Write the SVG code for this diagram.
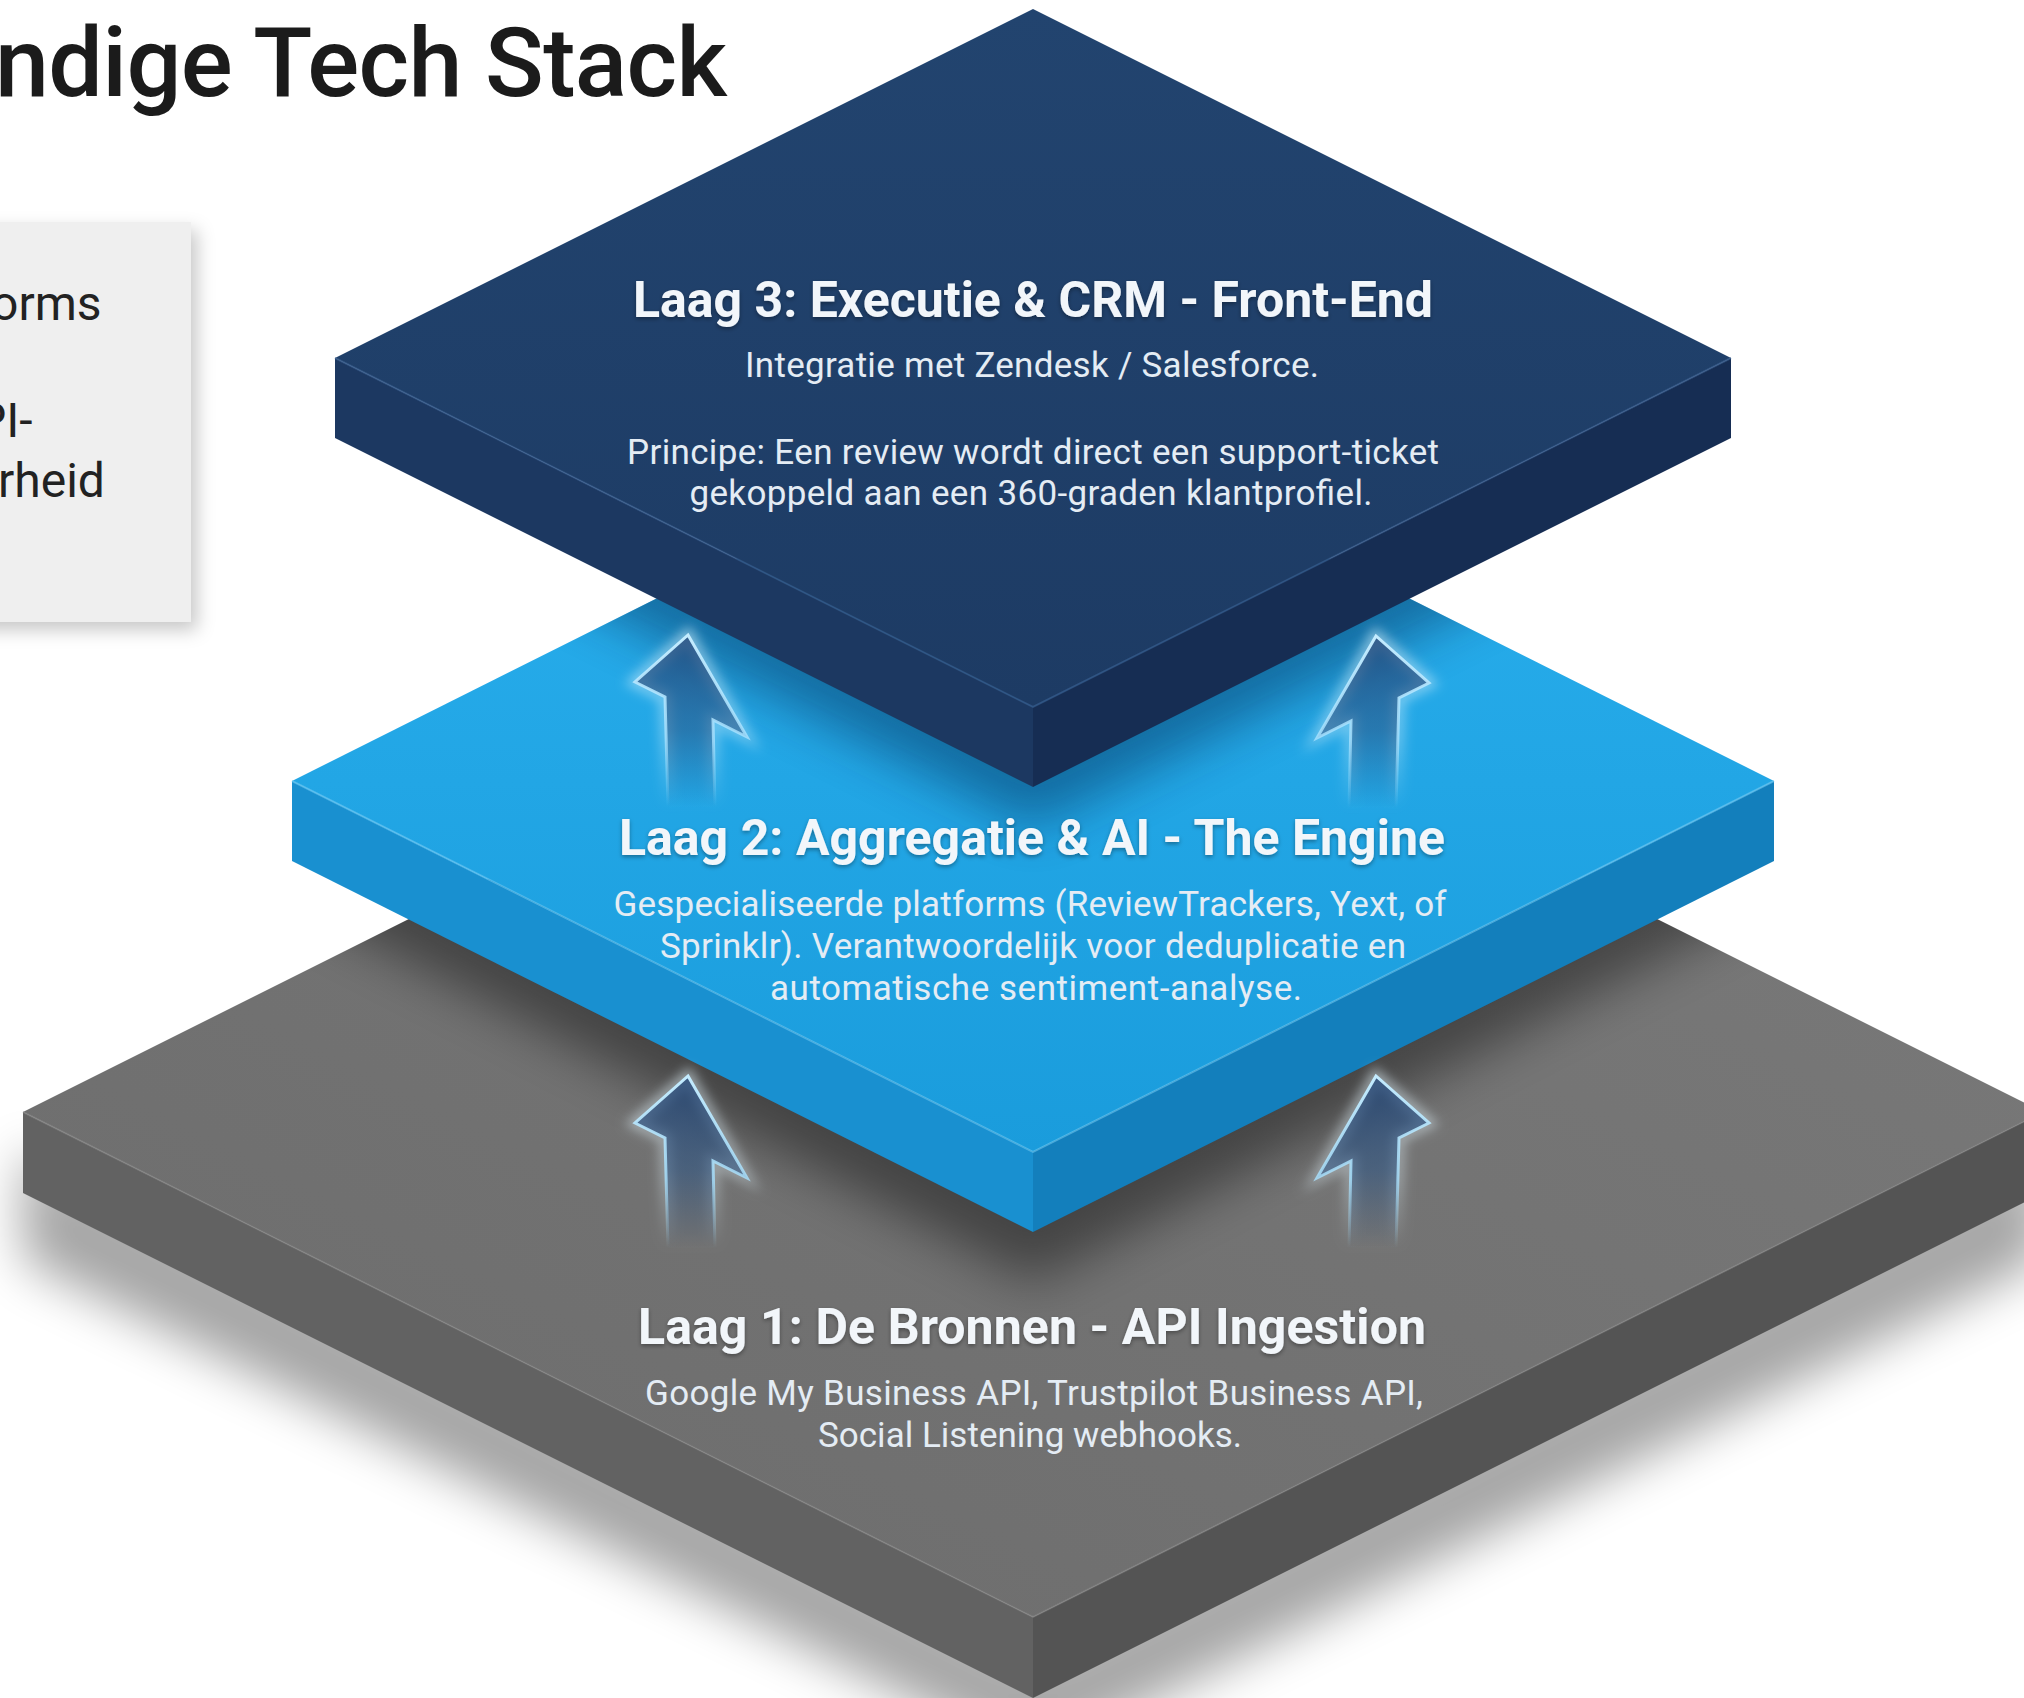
<svg xmlns="http://www.w3.org/2000/svg" width="2024" height="1698" viewBox="0 0 2024 1698">
<style>
 .title{font-family:Roboto,"Liberation Sans",sans-serif;font-weight:500;font-size:97px;fill:#1b1b1b}
 .card-text{font-family:Roboto,"Liberation Sans",sans-serif;font-size:48px;fill:#222222}
 .h{font-family:Roboto,"Liberation Sans",sans-serif;font-weight:700;font-size:50px;fill:#f2f6fa;text-anchor:middle}
 .b{font-family:Roboto,"Liberation Sans",sans-serif;font-size:35px;fill:#e4ecf4;text-anchor:middle}
 .arrow{fill:url(#arrowFill);stroke:url(#arrowStroke);stroke-width:3;stroke-linejoin:miter}
 .arrow-glow{fill:none;stroke:url(#glowStroke);stroke-width:12;filter:url(#blur6)}
 .edge{fill:none;stroke-width:2}
</style>
<defs>
 <filter id="blur6" x="-50%" y="-50%" width="200%" height="200%"><feGaussianBlur stdDeviation="6"/></filter>
 <filter id="blur25" x="-30%" y="-30%" width="160%" height="160%"><feGaussianBlur stdDeviation="25"/></filter>
 <filter id="blur14" x="-30%" y="-30%" width="160%" height="160%"><feGaussianBlur stdDeviation="14"/></filter>
 <filter id="txtShadow" x="-10%" y="-30%" width="120%" height="160%"><feDropShadow dx="0" dy="2" stdDeviation="2" flood-color="#000" flood-opacity="0.35"/></filter>
 <filter id="cardShadow" x="-20%" y="-20%" width="150%" height="150%"><feDropShadow dx="6" dy="8" stdDeviation="9" flood-color="#000" flood-opacity="0.22"/></filter>
 <linearGradient id="arrowFill" x1="0" y1="0" x2="0" y2="1">
  <stop offset="0" stop-color="#24487a" stop-opacity="0.8"/>
  <stop offset="0.55" stop-color="#2a5384" stop-opacity="0.55"/>
  <stop offset="1" stop-color="#2a5384" stop-opacity="0"/>
 </linearGradient>
 <linearGradient id="arrowStroke" x1="0" y1="0" x2="0" y2="1">
  <stop offset="0" stop-color="#c4ecff" stop-opacity="1"/>
  <stop offset="0.6" stop-color="#a9e2ff" stop-opacity="0.8"/>
  <stop offset="1" stop-color="#a9e2ff" stop-opacity="0"/>
 </linearGradient>
 <linearGradient id="glowStroke" x1="0" y1="0" x2="0" y2="1">
  <stop offset="0" stop-color="#e6f7ff" stop-opacity="0.55"/>
  <stop offset="0.6" stop-color="#e6f7ff" stop-opacity="0.35"/>
  <stop offset="1" stop-color="#e6f7ff" stop-opacity="0"/>
 </linearGradient>
 <linearGradient id="l3top" x1="0" y1="0" x2="0" y2="1">
  <stop offset="0" stop-color="#22446f"/>
  <stop offset="1" stop-color="#1d3b64"/>
 </linearGradient>
 <linearGradient id="l2top" x1="0" y1="0" x2="0" y2="1">
  <stop offset="0" stop-color="#2ab0ee"/>
  <stop offset="1" stop-color="#1a9cdc"/>
 </linearGradient>
 <linearGradient id="l1top" x1="1" y1="0" x2="0" y2="1">
  <stop offset="0" stop-color="#7a7a7a"/>
  <stop offset="1" stop-color="#6c6c6c"/>
 </linearGradient>
 <clipPath id="clipL2"><polygon points="1033,410 1774,781 1033,1152 292,781"/></clipPath>
 <clipPath id="clipL1"><polygon points="1033,607 2043,1112 1033,1617 23,1112"/></clipPath>
 <path id="arrowShape" d="M0 0 L59 102 L25 85 L27 172 L-20 172 L-23 62 L-53 47 Z"/>
</defs>

<rect width="2024" height="1698" fill="#ffffff"/>

<g id="title">
 <text class="title" x="-5" y="96" textLength="732">ndige Tech Stack</text>
</g>

<g id="side-card">
 <rect x="-30" y="222" width="221" height="400" fill="#efefef" filter="url(#cardShadow)"/>
 <text class="card-text" x="-9" y="320">orms</text>
 <text class="card-text" x="-24" y="437">PI-</text>
 <text class="card-text" x="-2" y="497">rheid</text>
</g>

<g id="layer1">
 <polygon points="23,1150 1033,1660 2043,1150 2043,1260 1033,1760 23,1260" fill="#000" opacity="0.35" filter="url(#blur25)"/>
 <polygon points="1033,607 2043,1112 1033,1617 23,1112" fill="url(#l1top)"/>
 <polygon points="23,1112 1033,1617 1033,1698 23,1193" fill="#626262"/>
 <polygon points="1033,1617 2043,1112 2043,1193 1033,1698" fill="#545454"/>
 <polyline class="edge" points="23,1112 1033,1617 2043,1112" stroke="#8a8a8a" opacity="0.5"/>
 <g clip-path="url(#clipL1)">
  <polygon points="1033,440 1774,821 1774,901 1033,1282 292,901 292,821" fill="#000" opacity="0.4" filter="url(#blur25)"/>
 </g>
 <text class="h" x="1032" y="1344" textLength="788" filter="url(#txtShadow)">Laag 1: De Bronnen - API Ingestion</text>
 <text class="b" x="1034" y="1405" textLength="778">Google My Business API, Trustpilot Business API,</text>
 <text class="b" x="1030" y="1447" textLength="424">Social Listening webhooks.</text>
</g>

<g id="layer2">
 <polygon points="1033,410 1774,781 1033,1152 292,781" fill="url(#l2top)"/>
 <polygon points="292,781 1033,1152 1033,1232 292,861" fill="#1990d0"/>
 <polygon points="1033,1152 1774,781 1774,861 1033,1232" fill="#137fbc"/>
 <polyline class="edge" points="292,781 1033,1152 1774,781" stroke="#6cc9f5" opacity="0.6"/>
 <g clip-path="url(#clipL2)">
  <polygon points="1033,40 1731,398 1731,478 1033,827 335,478 335,398" fill="#06284f" opacity="0.45" filter="url(#blur25)"/>
 </g>
 <text class="h" x="1032" y="855" textLength="826" filter="url(#txtShadow)">Laag 2: Aggregatie &amp; AI - The Engine</text>
 <text class="b" x="1030" y="916" textLength="833">Gespecialiseerde platforms (ReviewTrackers, Yext, of</text>
 <text class="b" x="1033" y="958" textLength="746">Sprinklr). Verantwoordelijk voor deduplicatie en</text>
 <text class="b" x="1036" y="1000" textLength="532">automatische sentiment-analyse.</text>
</g>

<g id="layer3">
 <polygon points="1033,9 1731,358 1033,707 335,358" fill="url(#l3top)"/>
 <polygon points="335,358 1033,707 1033,787 335,438" fill="#1c3861"/>
 <polygon points="1033,707 1731,358 1731,438 1033,787" fill="#162d53"/>
 <polyline class="edge" points="335,358 1033,707 1731,358" stroke="#3d6496" opacity="0.6"/>
 <text class="h" x="1033" y="317" textLength="800" filter="url(#txtShadow)">Laag 3: Executie &amp; CRM - Front-End</text>
 <text class="b" x="1032" y="377" textLength="574">Integratie met Zendesk / Salesforce.</text>
 <text class="b" x="1033" y="464" textLength="812">Principe: Een review wordt direct een support-ticket</text>
 <text class="b" x="1031" y="505" textLength="683">gekoppeld aan een 360-graden klantprofiel.</text>
</g>

<g id="connectors">
 <use href="#arrowShape" class="arrow-glow" transform="translate(688,635)"/>
 <use href="#arrowShape" class="arrow" transform="translate(688,635)"/>
 <use href="#arrowShape" class="arrow-glow" transform="translate(1376,636) scale(-1,1)"/>
 <use href="#arrowShape" class="arrow" transform="translate(1376,636) scale(-1,1)"/>
 <use href="#arrowShape" class="arrow-glow" transform="translate(688,1076)"/>
 <use href="#arrowShape" class="arrow" transform="translate(688,1076)"/>
 <use href="#arrowShape" class="arrow-glow" transform="translate(1376,1076) scale(-1,1)"/>
 <use href="#arrowShape" class="arrow" transform="translate(1376,1076) scale(-1,1)"/>
</g>
</svg>
